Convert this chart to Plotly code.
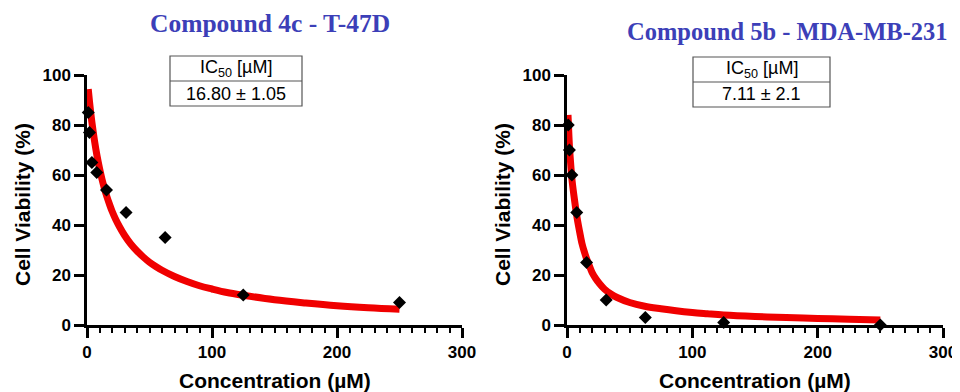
import plotly.graph_objects as go

# ---- data ----
conc = [0.98, 1.95, 3.9, 7.8, 15.6, 31.25, 62.5, 125, 250]
via_4c = [85, 77, 65, 61, 54, 45, 35, 12, 9]
via_5b = [80, 70, 60, 45, 25, 10, 3, 1, 0]

fit_x_4c = [1, 2, 3, 4, 6, 8, 10, 12, 14, 16, 18, 20, 23, 26, 30, 35, 40, 45, 50, 55, 60, 70, 80, 90, 100, 112, 125, 150, 175, 200, 225, 250]
fit_y_4c = [94.4, 89.4, 84.8, 80.8, 73.7, 67.7, 62.7, 58.3, 54.5, 51.2, 48.3, 45.6, 42.2, 39.3, 35.9, 32.4, 29.6, 27.2, 25.1, 23.4, 21.9, 19.4, 17.4, 15.7, 14.4, 13.0, 11.9, 10.1, 8.8, 7.7, 6.9, 6.3]
fit_x_5b = [0.8, 1.5, 2, 3, 4, 6, 8, 10, 12, 14, 16, 18, 20, 23, 26, 30, 35, 40, 50, 62, 75, 87, 100, 112, 125, 150, 175, 200, 225, 250]
fit_y_5b = [84, 76, 71, 64, 58, 50, 43, 37.5, 32.5, 29, 26, 23.5, 21, 18.5, 16.5, 14.3, 12.4, 11, 9, 7.5, 6.5, 5.7, 5, 4.5, 4, 3.4, 3, 2.6, 2.3, 2]

titles = ["Compound 4c - T-47D", "Compound 5b - MDA-MB-231"]
ic50_text = ["16.80 ± 1.05", "7.11 ± 2.1"]
xticks = [0, 100, 200, 300]
yticks = [0, 20, 40, 60, 80, 100]

# page has an 8px body margin: figure pixel = page pixel - 8
OFF = 8
W, H = 952, 384
def px(x):
    return (x - OFF) / W
def py(y):
    return 1 - (y - OFF) / H

fig = go.Figure()

panels = [
    dict(fx=fit_x_4c, fy=fit_y_4c, py_=via_4c, xa="x", ya="y"),
    dict(fx=fit_x_5b, fy=fit_y_5b, py_=via_5b, xa="x2", ya="y2"),
]

for p in panels:
    fig.add_trace(go.Scatter(x=p["fx"], y=p["fy"], mode="lines", line=dict(color="#f00000", width=7, shape="spline", smoothing=1.0),
                             xaxis=p["xa"], yaxis=p["ya"], cliponaxis=False, showlegend=False, hoverinfo="skip"))
    fig.add_trace(go.Scatter(x=conc, y=p["py_"], mode="markers", marker=dict(symbol="diamond", size=10, color="black"),
                             xaxis=p["xa"], yaxis=p["ya"], cliponaxis=False, showlegend=False))

axfont = dict(family="Liberation Sans, Arial", size=17, color="black", weight="bold")
common_x = dict(range=[0, 300], tickvals=xticks, ticks="outside", ticklen=10, tickwidth=2.5, showline=True, linewidth=2.5,
                linecolor="black", tickcolor="black", showgrid=False, zeroline=False, tickfont=axfont, automargin=False,
                minor=dict(dtick=10, ticks="outside", ticklen=5, tickwidth=2, tickcolor="black"))
common_y = dict(range=[0, 100], tickvals=yticks, ticks="outside", ticklen=10, tickwidth=2.5, showline=True, linewidth=2.5,
                linecolor="black", tickcolor="black", showgrid=False, zeroline=False, tickfont=axfont, automargin=False)

ydom = [py(325), py(75)]
fig.update_layout(
    width=W, height=H, margin=dict(l=0, r=0, t=0, b=0, autoexpand=False), paper_bgcolor="white", plot_bgcolor="white",
    xaxis=dict(domain=[px(87), px(462)], anchor="y", **common_x),
    yaxis=dict(domain=ydom, anchor="x", **common_y),
    xaxis2=dict(domain=[px(567), px(943)], anchor="y2", **common_x),
    yaxis2=dict(domain=ydom, anchor="x2", **common_y),
)

ann = []
shapes = []
title_pos = [(270, 24, 25.5), (787, 31, 24.5)]
box = [(170, 302, 56, 81, 106), (693, 830, 57, 82, 107)]
xt_center = [275, 755]
yt_x = [22, 502]
for i in range(2):
    tx, ty, ts = title_pos[i]
    ann.append(dict(x=px(tx), y=py(ty), xref="paper", yref="paper", text="<b>%s</b>" % titles[i], showarrow=False,
                    font=dict(family="Liberation Serif, Times New Roman", size=ts, color="#3c3fb8"), xanchor="center", yanchor="middle"))
    x0, x1, y0, ym, y1 = box[i]
    shapes.append(dict(type="rect", xref="paper", yref="paper", x0=px(x0), x1=px(x1), y0=py(y1), y1=py(y0),
                       line=dict(color="#555555", width=1.2), fillcolor="white", layer="above"))
    shapes.append(dict(type="line", xref="paper", yref="paper", x0=px(x0), x1=px(x1), y0=py(ym), y1=py(ym),
                       line=dict(color="#555555", width=1.2)))
    cx = (x0 + x1) / 2
    ann.append(dict(x=px(cx), y=py((y0 + ym) / 2), xref="paper", yref="paper", text="IC<sub>50</sub> [µM]", showarrow=False,
                    font=dict(family="Liberation Sans, Arial", size=18, color="black"), xanchor="center", yanchor="middle"))
    ann.append(dict(x=px(cx), y=py((ym + y1) / 2), xref="paper", yref="paper", text=ic50_text[i], showarrow=False,
                    font=dict(family="Liberation Sans, Arial", size=18, color="black"), xanchor="center", yanchor="middle"))
    ann.append(dict(x=px(xt_center[i]), y=py(380), xref="paper", yref="paper", text="<b>Concentration (µM)</b>", showarrow=False,
                    font=dict(family="Liberation Sans, Arial", size=21, color="black"), xanchor="center", yanchor="middle"))
    ann.append(dict(x=px(yt_x[i]), y=py(205), xref="paper", yref="paper", text="<b>Cell Viability (%)</b>", showarrow=False,
                    textangle=-90, font=dict(family="Liberation Sans, Arial", size=21, color="black"), xanchor="center", yanchor="middle"))

fig.update_layout(annotations=ann, shapes=shapes)
fig.write_html("out.html")
